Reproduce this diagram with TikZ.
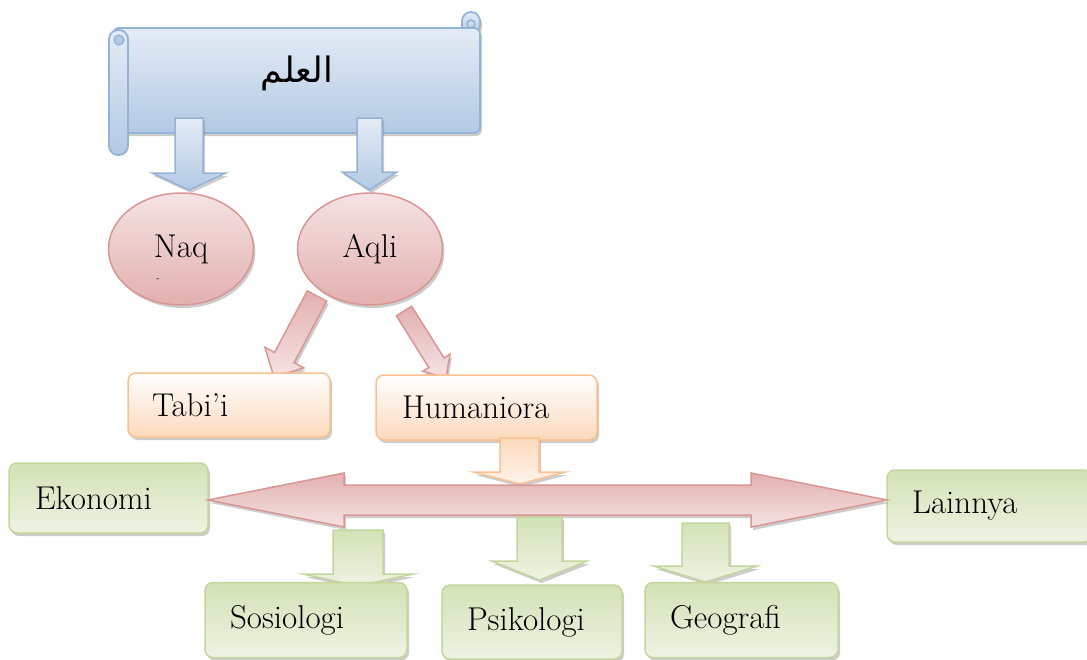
\documentclass[tikz,border=0pt]{standalone}
\usepackage{fontspec}
\newfontfamily\arabicfont[Script=Arabic]{DejaVu Sans}
\TeXXeTstate=1
\usepackage{tikz}
\usetikzlibrary{calc, positioning, shapes.geometric, shadows}

\definecolor{blueline}{HTML}{95B3D7}
\definecolor{bluelight}{HTML}{E4ECF6}
\definecolor{bluedark}{HTML}{B3C9E3}
\definecolor{pinkline}{HTML}{D99694}
\definecolor{pinklight}{HTML}{F5E3E3}
\definecolor{pinkdark}{HTML}{E2B0AF}
\definecolor{orangeline}{HTML}{FAC090}
\definecolor{orangedark}{HTML}{FCD9BC}
\definecolor{greenline}{HTML}{C3D69B}
\definecolor{greenlight}{HTML}{EEF3E3}
\definecolor{greendark}{HTML}{D3E2B6}

% block arrow: style, from, to, shaft half width, head half width, head length
\newcommand\blockarrow[6]{%
  \coordinate (hb) at ($(#3)!#6!(#2)$);
  \path[#1] ($(#2)!#4!90:(#3)$) -- ($(hb)!#4!90:(#3)$) -- ($(hb)!#5!90:(#3)$) -- (#3)
    -- ($(hb)!#5!-90:(#3)$) -- ($(hb)!#4!-90:(#3)$) -- ($(#2)!#4!-90:(#3)$) -- cycle;}
% double block arrow: style, end a, end b, shaft half width, head half width, head length
\newcommand\dblarrow[6]{%
  \coordinate (ha) at ($(#2)!#6!(#3)$);
  \coordinate (hc) at ($(#3)!#6!(#2)$);
  \path[#1] (#2) -- ($(ha)!#5!90:(#3)$) -- ($(ha)!#4!90:(#3)$) -- ($(hc)!#4!-90:(#2)$)
    -- ($(hc)!#5!-90:(#2)$) -- (#3) -- ($(hc)!#5!90:(#2)$) -- ($(hc)!#4!90:(#2)$)
    -- ($(ha)!#4!-90:(#3)$) -- ($(ha)!#5!-90:(#3)$) -- cycle;}

\begin{document}
\begin{tikzpicture}[x=1pt, y=-1pt,
    shade/.style={drop shadow={shadow xshift=2pt, shadow yshift=-3pt, opacity=0.4}},
    scroll/.style={draw=blueline, line width=1.8pt, top color=bluelight, bottom color=bluedark, rounded corners=6pt},
    bluearrow/.style={draw=blueline, line width=1.5pt, top color=bluelight, bottom color=bluedark, shade},
    pinkarrow/.style={draw=pinkline, line width=1.5pt, top color=pinkdark, bottom color=pinklight, shade},
    orangearrow/.style={draw=orangeline, line width=1.5pt, top color=orangedark, bottom color=white!70!orangedark, shade},
    greenarrow/.style={draw=greenline, line width=1.5pt, top color=greendark, bottom color=greenlight, shade},
    topic/.style={ellipse, draw=pinkline, line width=1.5pt, top color=pinklight, bottom color=pinkdark, shade,
        minimum width=145pt, minimum height=112pt, inner sep=0pt},
    orangebox/.style={rectangle, rounded corners=8pt, draw=orangeline, line width=1.5pt, top color=white,
        bottom color=orangedark, shade, align=left, inner xsep=0pt},
    greenbox/.style={rectangle, rounded corners=8pt, draw=greenline, line width=1.5pt, top color=greendark,
        bottom color=greenlight, shade, align=left, inner xsep=0pt},
    txt/.style={font=\fontsize{33}{38}\selectfont}
]
    \useasboundingbox (0,0) rectangle (1087,659);
    \clip (0,0) rectangle (1087,659);

    % scroll
    \draw[scroll, rounded corners=9pt, shade] (462,12) rectangle (480,34);
    \draw[blueline, line width=1.5pt] (471,24) circle (4pt);
    \draw[scroll, shade] (113,28) rectangle (480,133);
    \draw[scroll, rounded corners=9pt] (109,30) rectangle (128,155);
    \draw[blueline, fill=bluedark, line width=1.2pt] (119,40) circle (5pt);
    \node[font=\arabicfont\fontsize{35}{40}\selectfont] (ilmu) at (297,73) {\beginR العلم\endR};

    \coordinate (naqfrom) at (189,118);
    \coordinate (naqto) at (189,190);
    \coordinate (aqlifrom) at (369.5,118);
    \coordinate (aqlito) at (369.5,190);
    \blockarrow{bluearrow}{naqfrom}{naqto}{14pt}{37pt}{17pt}
    \blockarrow{bluearrow}{aqlifrom}{aqlito}{12.5pt}{27.5pt}{18pt}

    \node[topic, txt] (naq) at (181,249) {Naq};
    \node[font=\fontsize{10}{12}\selectfont] (naqcut) at (158,280) {-};
    \node[topic, txt] (aqli) at (370,249) {Aqli};

    \coordinate (tabifrom) at (317,296);
    \coordinate (tabito) at (274,377);
    \coordinate (humfrom) at (404,311);
    \coordinate (humto) at (446,378);
    \blockarrow{pinkarrow}{tabifrom}{tabito}{11pt}{22pt}{22pt}
    \blockarrow{pinkarrow}{humfrom}{humto}{9pt}{16pt}{18pt}

    \node[orangebox, txt, minimum width=202pt, minimum height=64pt, text width=154pt] (tabii) at (229,405) {Tabi’i};
    \node[orangebox, txt, minimum width=221pt, minimum height=65pt, text width=169pt] (humaniora) at (486.5,407.5) {Humaniora};

    \coordinate (bidangfrom) at (519.5,438);
    \coordinate (bidangto) at (519.5,484);
    \blockarrow{orangearrow}{bidangfrom}{bidangto}{19.5pt}{46pt}{12pt}

    \node[greenbox, txt, minimum width=199pt, minimum height=70pt, text width=147pt] (ekonomi) at (108.5,498) {Ekonomi};
    \node[greenbox, txt, minimum width=205pt, minimum height=72pt, text width=155pt] (lainnya) at (989.5,506) {Lainnya};

    \coordinate (left) at (208,500);
    \coordinate (right) at (887,500);
    \dblarrow{pinkarrow}{left}{right}{15pt}{27pt}{136pt}

    \coordinate (sosfrom) at (358,530);
    \coordinate (sosto) at (358,586);
    \coordinate (psifrom) at (539.5,517);
    \coordinate (psito) at (539.5,580);
    \coordinate (geofrom) at (705.5,523);
    \coordinate (geoto) at (705.5,582);
    \blockarrow{greenarrow}{sosfrom}{sosto}{25pt}{55pt}{12pt}
    \blockarrow{greenarrow}{psifrom}{psito}{22.5pt}{48pt}{19pt}
    \blockarrow{greenarrow}{geofrom}{geoto}{23.5pt}{52pt}{16pt}

    \node[greenbox, txt, minimum width=202pt, minimum height=75pt, text width=152pt] (sosiologi) at (306,620) {Sosiologi};
    \node[greenbox, txt, minimum width=180pt, minimum height=74pt, text width=130pt] (psikologi) at (532,622) {Psikologi};
    \node[greenbox, txt, minimum width=193pt, minimum height=75pt, text width=143pt] (geografi) at (741.5,620) {Geografi};
\end{tikzpicture}
\end{document}
